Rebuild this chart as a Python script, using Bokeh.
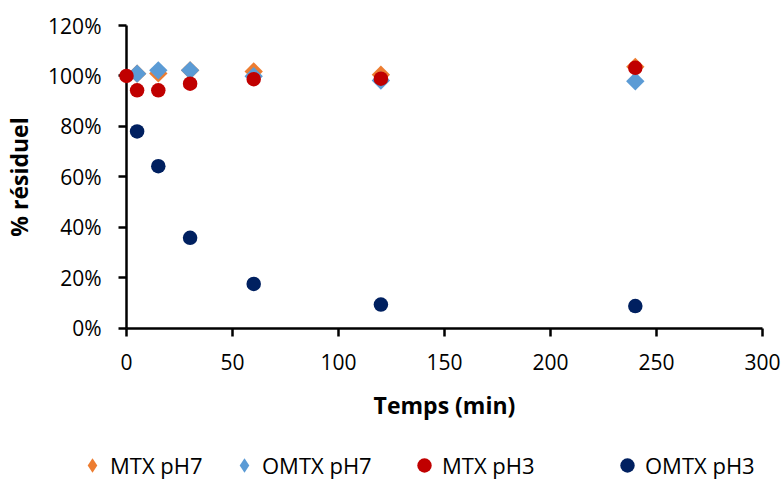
import math
from bokeh.plotting import figure
from bokeh.models import Range1d, Legend, LegendItem, NumeralTickFormatter, FixedTicker
from bokeh.embed import file_html
from bokeh.resources import INLINE

# ---- data (fraction of initial amount) ----
t_mtx_ph7 = [5, 15, 30, 60, 120, 240]
mtx_ph7 = [1.009, 1.010, 1.022, 1.018, 1.005, 1.036]

t_omtx_ph7 = [5, 15, 30, 60, 120, 240]
omtx_ph7 = [1.009, 1.022, 1.022, 0.999, 0.982, 0.979]

t_mtx_ph3 = [0, 5, 15, 30, 60, 120, 240]
mtx_ph3 = [1.000, 0.943, 0.943, 0.969, 0.987, 0.989, 1.032]

t_omtx_ph3 = [5, 15, 30, 60, 120, 240]
omtx_ph3 = [0.780, 0.642, 0.358, 0.175, 0.093, 0.087]

x_ticks = [0, 50, 100, 150, 200, 250, 300]
y_ticks = [0.0, 0.2, 0.4, 0.6, 0.8, 1.0, 1.2]

series_names = ["MTX pH7", "OMTX pH7", "MTX pH3", "OMTX pH3"]
colors = ["#ED7D31", "#5B9BD5", "#C00000", "#002060"]

FONT = "Open Sans"

# ---- layout (pixels) ----
W, H = 781, 479
X0_PX, X1_PX = 126.0, 762.0     # x = 0 and x = 300
Y0_PX, Y1_PX = 327.5, 25.0      # y = 0 and y = 1.2
kx = (X1_PX - X0_PX) / 300.0
ky = (Y0_PX - Y1_PX) / 1.2
x_start = -X0_PX / kx
x_end = 300.0 + (W - X1_PX) / kx
y_start = -(H - Y0_PX) / ky
y_end = 1.2 + Y1_PX / ky

p = figure(width=W, height=H, output_backend="svg", toolbar_location=None,
           x_range=Range1d(x_start, x_end), y_range=Range1d(y_start, y_end),
           min_border=0, min_border_left=0, min_border_right=0,
           min_border_top=0, min_border_bottom=0)
p.title.visible = False
p.outline_line_color = None
p.xgrid.visible = False
p.ygrid.visible = False
p.background_fill_color = "white"
p.border_fill_color = "white"

# legend keys for the diamond series (Bokeh does not rotate legend glyphs);
# drawn first and tiny so they stay hidden under the real markers
k1 = p.scatter(t_mtx_ph7, mtx_ph7, marker="diamond", size=1,
               fill_color=colors[0], line_color=None)
k2 = p.scatter(t_omtx_ph7, omtx_ph7, marker="diamond", size=1,
               fill_color=colors[1], line_color=None)

r1 = p.scatter(t_mtx_ph7, mtx_ph7, marker="square", size=13, angle=math.pi / 4,
               fill_color=colors[0], line_color=None)
r2 = p.scatter(t_omtx_ph7, omtx_ph7, marker="square", size=13, angle=math.pi / 4,
               fill_color=colors[1], line_color=None)
r3 = p.scatter(t_mtx_ph3, mtx_ph3, marker="circle", size=14.5,
               fill_color=colors[2], line_color=None)
r4 = p.scatter(t_omtx_ph3, omtx_ph3, marker="circle", size=14.5,
               fill_color=colors[3], line_color=None)

# axes
for ax in (p.xaxis[0], p.yaxis[0]):
    ax.level = "underlay"
    ax.axis_line_color = "black"
    ax.axis_line_width = 2.5
    ax.major_tick_line_color = "black"
    ax.major_tick_line_width = 2.5
    ax.major_tick_in = 0
    ax.major_tick_out = 8
    ax.minor_tick_line_color = None
    ax.major_label_text_font = FONT
    ax.major_label_text_font_size = "21px"
    ax.major_label_text_color = "black"
    ax.axis_label_text_font = FONT
    ax.axis_label_text_font_size = "23px"
    ax.axis_label_text_font_style = "bold"
    ax.axis_label_text_color = "black"

p.xaxis.ticker = FixedTicker(ticks=x_ticks)
p.xaxis.bounds = (0, 300)
p.xaxis.fixed_location = 0
p.xaxis.axis_label = "Temps (min)"
p.xaxis.major_label_standoff = 18
p.xaxis.axis_label_standoff = 15

p.yaxis.ticker = FixedTicker(ticks=y_ticks)
p.yaxis.formatter = NumeralTickFormatter(format="0%")
p.yaxis.bounds = (0, 1.2)
p.yaxis.fixed_location = 0
p.yaxis.axis_label = "% résiduel"
p.yaxis.major_label_standoff = 17
p.yaxis.axis_label_standoff = 10

# legends (one per entry, placed at the bottom of the canvas)
legend_renderers = [k1, k2, r3, r4]
legend_x = [74, 226, 406, 609]
glyph_w = [36, 36, 36, 36]
glyph_h = [36, 36, 36, 36]
legend_y = [-4, -4, -4, -4]
standoffs = [-6, -6, -6, -4]
for name, r, lx, ly, gw, gh, so in zip(series_names, legend_renderers, legend_x, legend_y,
                                       glyph_w, glyph_h, standoffs):
    lg = Legend(items=[LegendItem(label=name, renderers=[r])],
                location=(lx, ly), orientation="horizontal",
                glyph_width=gw, glyph_height=gh, label_height=gh,
                label_standoff=so, padding=0, margin=0, spacing=0,
                border_line_color=None, background_fill_alpha=0,
                label_text_font=FONT, label_text_font_size="22px",
                label_text_color="black")
    p.add_layout(lg, "center")

open("out.html", "w").write(file_html(p, INLINE))
